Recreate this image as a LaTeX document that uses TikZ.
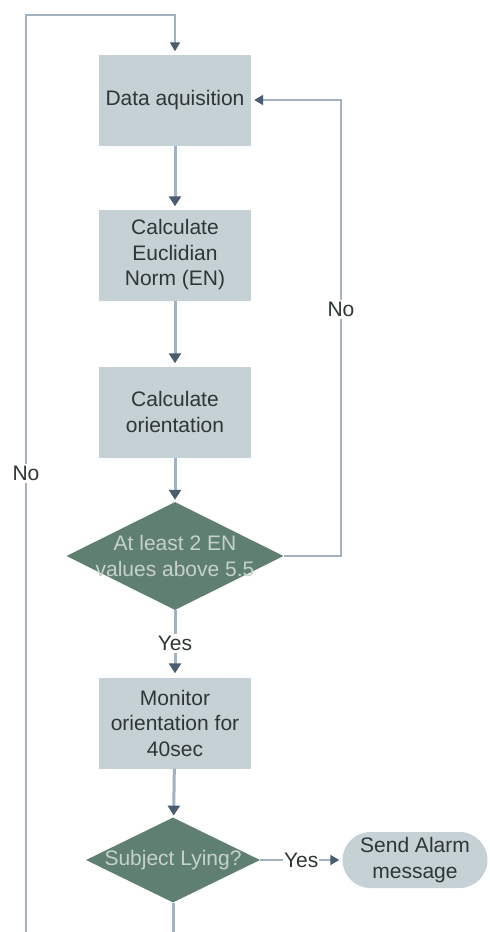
\documentclass[tikz,border=0pt]{standalone}
\usepackage{fontspec}
\setmainfont{Liberation Sans}
\usetikzlibrary{shapes.geometric,shapes.misc,arrows.meta}
\definecolor{boxc}{HTML}{C6D1D5}
\definecolor{diac}{HTML}{5F7F71}
\definecolor{diatext}{HTML}{C5D2CB}
\definecolor{linec}{HTML}{A3B2BE}
\definecolor{arrc}{HTML}{4A5C6E}
\definecolor{txtc}{HTML}{2E3636}
\begin{document}
\begin{tikzpicture}[x=1pt,y=-1pt,
  every node/.style={font=\fontsize{21}{25.5}\selectfont, text=txtc},
  procbox/.style={rectangle, fill=boxc, minimum width=152pt, minimum height=91pt, align=center, inner sep=0pt},
  decision/.style={diamond, fill=diac, inner sep=0pt},
  endbox/.style={rounded rectangle, fill=boxc, minimum width=145pt, minimum height=56pt, align=center, inner sep=0pt},
  conn/.style={draw=linec, line width=3pt, -{Triangle[width=12pt,length=10pt,color=arrc]}},
  loopline/.style={draw=linec, line width=1.8pt},
  looparrow/.style={loopline, -{Triangle[width=10pt,length=9pt,color=arrc]}},
  lbl/.style={fill=white, inner sep=2pt, text=txtc}
]
\useasboundingbox[fill=white] (0,0) rectangle (490,932);

\node[procbox] (acq) at (175,100) {Data aquisition};
\node[procbox] (en) at (175,255) {Calculate\\Euclidian\\Norm (EN)};
\node[procbox] (ori) at (175,412) {Calculate\\orientation};
\node[decision, minimum width=217pt, minimum height=108pt,
      label={[text=diatext, align=center, font=\fontsize{21}{25.5}\selectfont]center:At least 2 EN\\values above 5.5}] (d1) at (175,556) {};
\node[procbox] (mon) at (175,723) {Monitor\\orientation for\\40sec};
\node[decision, minimum width=174pt, minimum height=85pt,
      label={[text=diatext, font=\fontsize{21}{25.5}\selectfont]center:Subject Lying?}] (d2) at (173,860) {};
\node[endbox] (alarm) at (415,860) {Send Alarm\\message};

\coordinate (botc) at (173,932);
\coordinate (botl) at (26,932);
\coordinate (topl) at (26,15);
\coordinate (topc) at (175,15);
\coordinate (rb) at (341,556);
\coordinate (rt) at (341,100);

\draw[conn, shorten >=3pt] (acq) -- (en);
\draw[conn, shorten >=3pt] (en) -- (ori);
\draw[conn, shorten >=2pt] (ori) -- (d1);
\draw[conn, shorten >=4pt] (d1) -- node[lbl, pos=0.5]{Yes} (mon);
\draw[conn, shorten >=2pt] (mon) -- (d2);
\draw[draw=linec, line width=3pt] (d2) -- (botc);
\draw[looparrow, shorten >=3pt] (botl) -- node[lbl, pos=0.5]{No} (topl) -- (topc) -- (acq);
\draw[looparrow, shorten >=3pt] (d1.east) -- (rb) -- node[lbl, pos=0.54]{No} (rt) -- (acq.east);
\draw[looparrow, shorten >=3pt] (d2.east) -- node[lbl, inner sep=1pt]{Yes} (alarm.west);
\end{tikzpicture}
\end{document}
